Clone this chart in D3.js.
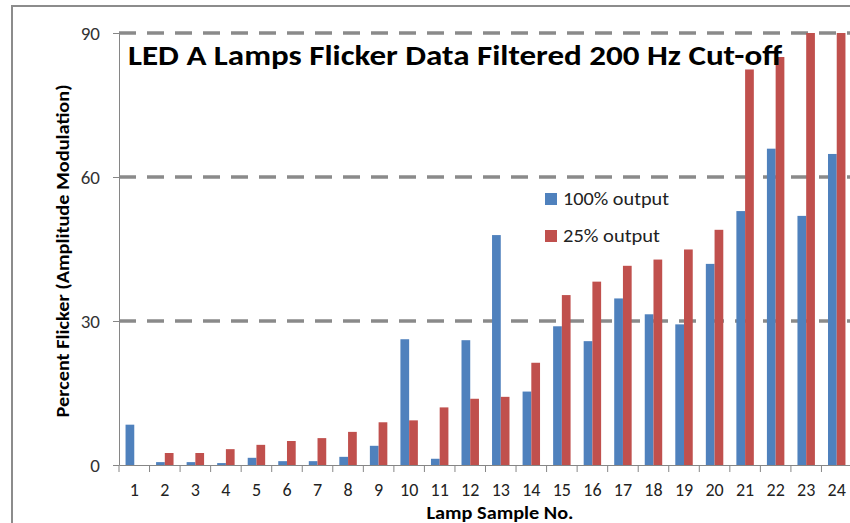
<!DOCTYPE html>
<html>
<head>
<meta charset="utf-8">
<script src="https://cdn.jsdelivr.net/npm/d3@7"></script>
<style>
  body { margin: 0; background: #fff; }
  svg { display: block; }
  text { font-family: Carlito, Calibri, "Open Sans", sans-serif; }
</style>
</head>
<body>
<script>

    // values
    var lamps = ["1","2","3","4","5","6","7","8","9","10","11","12",
                 "13","14","15","16","17","18","19","20","21","22","23","24"];
    var out100 = [8.4, 0.6, 0.6, 0.4, 1.5, 0.8, 0.8, 1.7, 4.0, 26.2, 1.3, 26.0,
                  47.9, 15.3, 28.9, 25.8, 34.7, 31.4, 29.3, 41.9, 52.9, 65.9, 51.9, 64.8];
    var out25 = [0, 2.5, 2.5, 3.3, 4.2, 5.0, 5.6, 6.9, 8.9, 9.3, 12.0, 13.8,
                 14.2, 21.3, 35.4, 38.2, 41.5, 42.8, 44.9, 49.0, 82.4, 85.0, 90, 90];
    var seriesNames = ["100% output", "25% output"];
    var yTicks = [0, 30, 60, 90];

    var colors = ["#4F81BD", "#C0504D"];
    var colorScale = d3.scaleOrdinal().domain(seriesNames).range(colors);

    var W = 850, H = 523;
    var margin = { top: 33, right: -2, bottom: 58, left: 119 };
    var width = W - margin.left - margin.right,
        height = H - margin.top - margin.bottom;

    var svg = d3.select("body").append("svg")
        .attr("width", W)
        .attr("height", H);

    // outer chart border (right / bottom edges fall outside the picture)
    svg.append("rect")
        .attr("x", 12).attr("y", 6)
        .attr("width", 900).attr("height", 600)
        .attr("fill", "none")
        .attr("stroke", "#8c8c8c")
        .attr("stroke-width", 2);

    var g = svg.append("g")
        .attr("transform", "translate(" + margin.left + "," + margin.top + ")");

    var x = d3.scaleBand().domain(lamps).range([0, width]);
    var xs = d3.scaleBand().domain(seriesNames).range([0, x.bandwidth()])
        .paddingInner(0).paddingOuter(0.75);
    var y = d3.scaleLinear().domain([0, 90]).range([height, 0]);

    // dashed gridlines
    g.selectAll(".grid")
        .data(yTicks.filter(function (d) { return d > 0; }))
        .enter().append("line")
        .attr("class", "grid")
        .attr("x1", 0).attr("x2", width)
        .attr("y1", function (d) { return y(d); })
        .attr("y2", function (d) { return y(d); })
        .attr("stroke", "#8a8a8a")
        .attr("stroke-width", 3.5)
        .attr("stroke-dasharray", "17,11");

    var table = lamps.map(function (l, i) {
        return { lamp: l, vals: [
            { s: seriesNames[0], v: out100[i] },
            { s: seriesNames[1], v: out25[i] }] };
    });

    var groups = g.selectAll(".lamp")
        .data(table)
        .enter().append("g")
        .attr("class", "lamp")
        .attr("transform", function (d) { return "translate(" + x(d.lamp) + ",0)"; });

    groups.selectAll("rect")
        .data(function (d) { return d.vals; })
        .enter().append("rect")
        .attr("x", function (d) { return xs(d.s); })
        .attr("width", xs.bandwidth())
        .attr("y", function (d) { return y(d.v); })
        .attr("height", function (d) { return height - y(d.v); })
        .attr("fill", function (d) { return colorScale(d.s); });

    // x axis
    var xAxis = g.append("g")
        .attr("transform", "translate(0," + height + ")")
        .call(d3.axisBottom(x).tickSizeInner(0).tickSizeOuter(0).tickPadding(18));
    xAxis.select(".domain").attr("stroke", "#868686");
    xAxis.selectAll("text").attr("font-size", 18).attr("fill", "#222")
        .attr("font-family", "Carlito, Calibri, 'Open Sans', sans-serif");
    // category boundary ticks
    g.selectAll(".xtick")
        .data(lamps)
        .enter().append("line")
        .attr("class", "xtick")
        .attr("x1", function (d) { return x(d); })
        .attr("x2", function (d) { return x(d); })
        .attr("y1", height).attr("y2", height + 7)
        .attr("stroke", "#868686");

    // y axis
    var yAxis = g.append("g")
        .call(d3.axisLeft(y).tickValues(yTicks).tickSize(6).tickSizeOuter(0).tickPadding(13));
    yAxis.select(".domain").attr("stroke", "#868686");
    yAxis.selectAll(".tick line").attr("stroke", "#868686");
    yAxis.selectAll("text").attr("font-size", 19).attr("fill", "#333")
        .attr("font-family", "Carlito, Calibri, 'Open Sans', sans-serif");

    // title
    svg.append("text")
        .attr("x", 128).attr("y", 65)
        .attr("font-size", 29)
        .attr("font-weight", "bold")
        .attr("textLength", 654)
        .attr("lengthAdjust", "spacingAndGlyphs")
        .text("LED A Lamps Flicker Data Filtered 200 Hz Cut-off");

    // axis titles
    svg.append("text")
        .attr("transform", "translate(69,251) rotate(-90)")
        .attr("text-anchor", "middle")
        .attr("font-size", 18)
        .attr("font-weight", "bold")
        .attr("textLength", 333)
        .attr("lengthAdjust", "spacingAndGlyphs")
        .text("Percent Flicker (Amplitude Modulation)");

    svg.append("text")
        .attr("x", 500).attr("y", 519)
        .attr("text-anchor", "middle")
        .attr("font-size", 18)
        .attr("font-weight", "bold")
        .attr("textLength", 147)
        .attr("lengthAdjust", "spacingAndGlyphs")
        .text("Lamp Sample No.");

    // legend
    var legend = svg.append("g").attr("transform", "translate(545,193)");
    var item = legend.selectAll(".item")
        .data(seriesNames)
        .enter().append("g")
        .attr("class", "item")
        .attr("transform", function (d, i) { return "translate(0," + (i * 37) + ")"; });
    item.append("rect")
        .attr("width", 12).attr("height", 12)
        .attr("fill", function (d) { return colorScale(d); });
    item.append("text")
        .attr("x", 18).attr("y", 12)
        .attr("font-size", 18)
        .attr("fill", "#222")
        .attr("textLength", function (d, i) { return i === 0 ? 106 : 97; })
        .attr("lengthAdjust", "spacingAndGlyphs")
        .text(function (d) { return d; });

</script>
</body>
</html>
